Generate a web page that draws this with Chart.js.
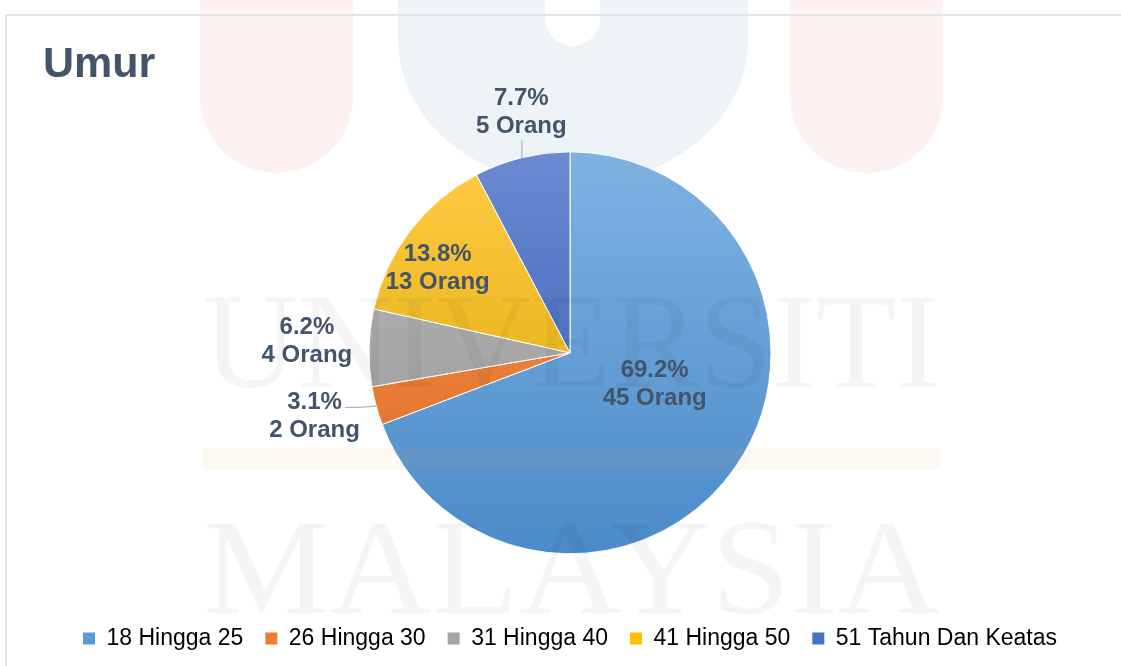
<!DOCTYPE html>
<html lang="ms">
<head>
  <meta charset="UTF-8" />
  <title>Umur</title>
  <script src="https://cdn.jsdelivr.net/npm/chart.js"></script>
  <style>
    html, body { margin: 0; padding: 0; background: #fff; }
    #wrap { position: relative; width: 1121px; height: 666px; }
  </style>
</head>
<body>
  <div id="wrap"><canvas id="chart" width="1121" height="666"></canvas></div>

  <script>
    // data
    const categories = ['18 Hingga 25', '26 Hingga 30', '31 Hingga 40', '41 Hingga 50', '51 Tahun Dan Keatas'];
    const percents = [69.2, 3.1, 6.2, 13.8, 7.7];
    const counts = [45, 2, 4, 13, 5];

    // colours: top and bottom of the vertical gradient, plus flat legend colour
    const colorsTop = ['#7fb2e2', '#f39352', '#b9b9b9', '#ffcb45', '#6b8ad2'];
    const colorsBottom = ['#4a8bc9', '#e06a22', '#969696', '#d9a600', '#2f58ad'];
    const colorsFlat = ['#5b9bd5', '#ed7d31', '#a5a5a5', '#ffc000', '#4472c4'];

    // label placement (fraction of radius, angle shift in degrees), leader type
    const labelRadius = [0.45, 1.31, 1.31, 0.78, 1.22];
    const labelShift = [-14, 1.3, 1, -5, 2.4];
    const leaders = [null, 'h', null, null, 'v'];

    const textColor = '#44546a';
    const font = '"Liberation Sans", Arial, sans-serif';

    const backdrop = {
      id: 'backdrop',
      beforeDraw(chart) {
        const c = chart.ctx;
        c.save();
        c.fillStyle = '#fff';
        c.fillRect(0, 0, chart.width, chart.height);
        const pill = (x0, x1, yb, col) => {
          const r = (x1 - x0) / 2;
          c.beginPath();
          c.moveTo(x0, -5);
          c.lineTo(x0, yb - r);
          c.arc(x0 + r, yb - r, r, Math.PI, 0, true);
          c.lineTo(x1, -5);
          c.closePath();
          c.fillStyle = col;
          c.fill();
        };
        pill(200, 353, 173, '#fdf1f1');
        pill(790, 943, 173, '#fdf1f1');
        c.beginPath();
        c.moveTo(398, -5);
        c.lineTo(398, 40);
        c.ellipse(573, 40, 175, 145, 0, Math.PI, 0, true);
        c.lineTo(748, -5);
        c.closePath();
        c.fillStyle = '#eef3f8';
        c.fill();
        pill(545, 600, 46, '#fff');
        // card frame
        c.strokeStyle = '#e0e5eb';
        c.lineWidth = 2;
        c.beginPath();
        c.moveTo(6, 700);
        c.lineTo(6, 15);
        c.lineTo(1130, 15);
        c.stroke();
        c.restore();
      },
      afterDatasetsDraw(chart) {
        const c = chart.ctx;
        c.save();
        c.fillStyle = 'rgba(245,165,95,0.08)';
        c.fillRect(203, 448, 737, 22);
        c.fillStyle = 'rgba(0,0,0,0.04)';
        c.font = '136px "Liberation Serif", serif';
        c.textBaseline = 'alphabetic';
        [['UNIVERSITI', 387], ['MALAYSIA', 613]].forEach(([t, y]) => {
          const w = c.measureText(t).width;
          c.save();
          c.translate(203, y);
          c.scale(737 / w, 1);
          c.fillText(t, 0, 0);
          c.restore();
        });
        c.restore();
      }
    };

    const sliceLabels = {
      id: 'sliceLabels',
      afterDraw(chart) {
        const c = chart.ctx;
        const arcs = chart.getDatasetMeta(0).data;
        c.save();
        c.font = 'bold 24px ' + font;
        c.fillStyle = textColor;
        c.textAlign = 'center';
        c.textBaseline = 'middle';
        arcs.forEach((arc, i) => {
          const { x, y, startAngle, endAngle, outerRadius } = arc.getProps(['x', 'y', 'startAngle', 'endAngle', 'outerRadius'], true);
          const mid = (startAngle + endAngle) / 2;
          const a = mid + labelShift[i] * Math.PI / 180;
          const lx = x + Math.cos(a) * outerRadius * labelRadius[i];
          const ly = y + Math.sin(a) * outerRadius * labelRadius[i];
          const line1 = percents[i].toFixed(1) + '%';
          const line2 = counts[i] + ' Orang';
          const ex = x + Math.cos(mid) * outerRadius;
          const ey = y + Math.sin(mid) * outerRadius;
          c.strokeStyle = '#a9b6c8';
          c.lineWidth = 1.2;
          if (leaders[i] === 'h') {
            const w1 = c.measureText(line1).width;
            c.beginPath();
            c.moveTo(lx + w1 / 2 + 3, ly - 9);
            c.quadraticCurveTo(ex - 12, ly - 9, ex, ey);
            c.stroke();
          } else if (leaders[i] === 'v') {
            c.beginPath();
            c.moveTo(ex, ey);
            c.lineTo(ex, ly + 28);
            c.stroke();
          }
          c.fillText(line1, lx, ly - 14);
          c.fillText(line2, lx, ly + 14);
        });
        c.restore();
      }
    };

    const ctx = document.getElementById('chart').getContext('2d');
    const chart = new Chart(ctx, {
      type: 'pie',
      data: {
        labels: categories,
        datasets: [{
          data: percents,
          radius: 201,
          borderColor: '#ffffff',
          borderWidth: 1,
          backgroundColor: (context) => {
            const i = context.dataIndex;
            const area = context.chart.chartArea;
            if (!area) return colorsFlat[i];
            const cy = (area.top + area.bottom) / 2;
            const g = context.chart.ctx.createLinearGradient(0, cy - 201, 0, cy + 201);
            g.addColorStop(0, colorsTop[i]);
            g.addColorStop(1, colorsBottom[i]);
            return g;
          }
        }]
      },
      options: {
        responsive: false,
        animation: false,
        layout: { padding: { left: 43, right: 24, top: 0, bottom: 6 } },
        plugins: {
          tooltip: { enabled: false },
          title: {
            display: true,
            text: 'Umur',
            align: 'start',
            color: textColor,
            font: { family: font, size: 43, weight: 'bold' },
            padding: { top: 39, bottom: 10 }
          },
          legend: {
            position: 'bottom',
            labels: {
              color: textColor,
              font: { family: font, size: 23 },
              boxWidth: 12,
              boxHeight: 12,
              padding: 22,
              generateLabels: (ch) => categories.map((t, i) => ({
                text: t,
                fillStyle: colorsFlat[i],
                strokeStyle: colorsFlat[i],
                lineWidth: 0,
                hidden: false,
                index: i
              }))
            }
          }
        }
      },
      plugins: [backdrop, sliceLabels]
    });
  </script>
</body>
</html>
